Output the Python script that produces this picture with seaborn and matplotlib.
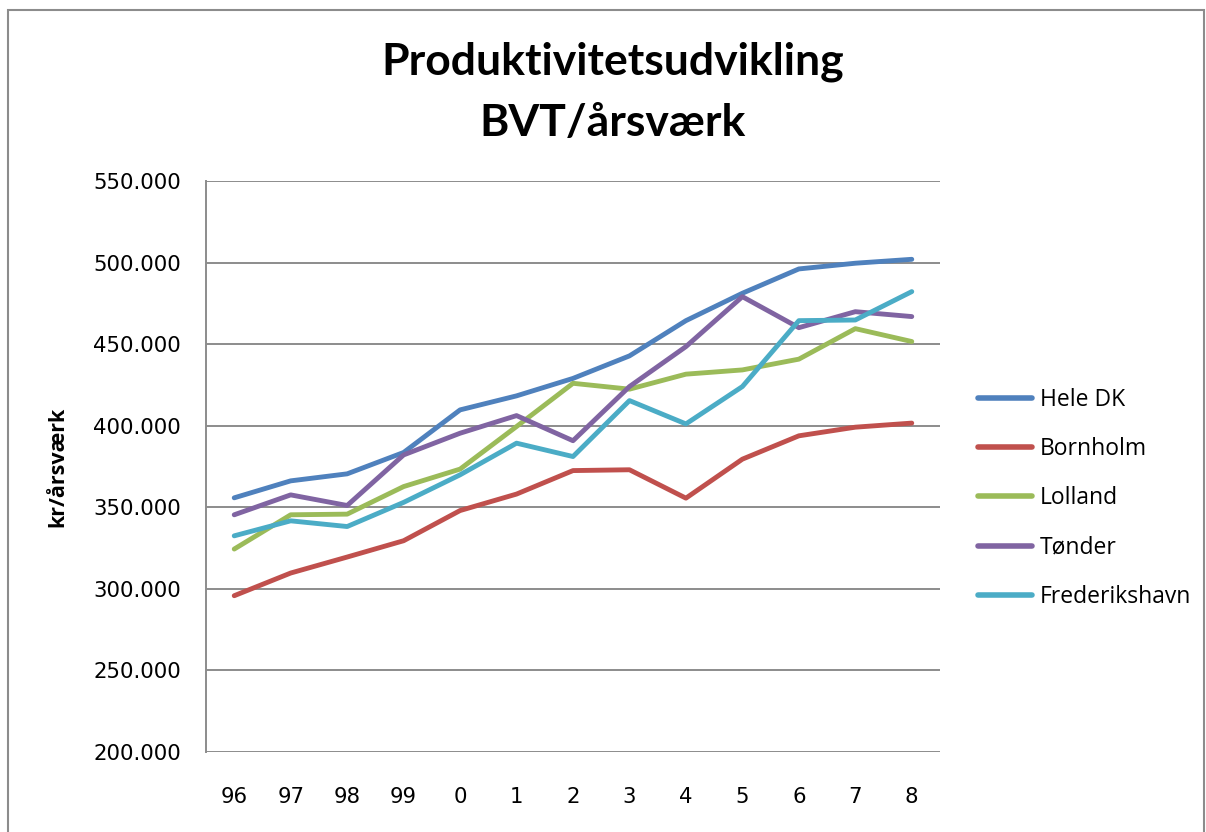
import numpy as np
import pandas as pd
import matplotlib
matplotlib.use("Agg")
import matplotlib.pyplot as plt
from matplotlib.patches import Rectangle
from matplotlib.ticker import FuncFormatter
import seaborn as sns

years = ["96", "97", "98", "99", "0", "1", "2", "3", "4", "5", "6", "7", "8"]

hele_dk = [355800, 366200, 370500, 383600, 409700, 418300, 429000, 442800, 464400, 481200, 496100, 499600, 502000]
bornholm = [295800, 309700, 319500, 329500, 348000, 358100, 372500, 373000, 355600, 379500, 393800, 399100, 401600]
lolland = [324400, 345400, 345800, 362700, 373400, 399500, 426000, 422400, 431600, 434200, 440800, 459500, 451600]
toender = [345400, 357600, 351100, 382100, 395400, 406200, 390800, 424000, 448500, 479100, 460100, 469900, 466900]
frederikshavn = [332500, 341700, 338200, 353000, 369900, 389300, 381100, 415400, 401100, 424000, 464400, 464800, 482200]

series_names = ["Hele DK", "Bornholm", "Lolland", "Tønder", "Frederikshavn"]
colors = ["#4F81BD", "#C0504D", "#9BBB59", "#8064A2", "#4BACC6"]

# long table for seaborn
rows = []
for name, vals in zip(series_names, [hele_dk, bornholm, lolland, toender, frederikshavn]):
    for i, v in enumerate(vals):
        rows.append({"pos": i, "year": years[i], "serie": name, "value": v})
df = pd.DataFrame(rows)

sns.set_style("white")
plt.rcParams['font.family'] = ['DejaVu Sans']
plt.rcParams['text.color'] = 'black'
plt.rcParams['axes.labelcolor'] = 'black'

fig = plt.figure(figsize=(12.06, 8.32), dpi=100)
ax = fig.add_axes([206 / 1206, 1 - 752 / 832, (940 - 206) / 1206, (752 - 181) / 832])

sns.lineplot(data=df, x="pos", y="value", hue="serie", hue_order=series_names,
             palette=colors, linewidth=3.5, ax=ax, legend=True)

ax.set_xlim(-0.5, 12.5)
ax.set_ylim(200000, 550000)
ax.set_yticks(np.arange(200000, 550001, 50000))
ax.yaxis.set_major_formatter(FuncFormatter(lambda v, p: f"{int(v):,}".replace(",", ".")))
ax.set_xticks(range(len(years)))
ax.set_xticklabels(years)
ax.tick_params(axis="both", length=0, labelsize=15.3, colors="black")
ax.tick_params(axis="y", pad=18)
ax.tick_params(axis="x", pad=25)

ax.grid(axis="y", color="#8C8C8C", linewidth=1.4)
ax.set_axisbelow(True)
for s in ["top", "right", "bottom"]:
    ax.spines[s].set_visible(False)
ax.spines["left"].set_color("#8C8C8C")
ax.spines["left"].set_linewidth(1.4)

ax.set_xlabel("")
ax.set_ylabel("kr/årsværk", fontsize=15.5, fontweight="bold",
              family=["Open Sans", "DejaVu Sans"])
ax.yaxis.set_label_coords((68 - 206) / 734, (752 - 467) / 571)

leg = ax.legend(loc="center left", bbox_to_anchor=(1.0237, 0.444), frameon=False,
                fontsize=16.5, handlelength=2.35, handletextpad=0.35, labelspacing=1.1)
for t in leg.get_texts():
    t.set_fontfamily(["Open Sans", "DejaVu Sans"])
for h in leg.get_lines():
    h.set_linewidth(4)
    h.set_solid_capstyle("round")

fig.text(613 / 1206, 1 - 75 / 832, "Produktivitetsudvikling", ha="center", va="baseline",
         fontsize=32, fontweight="bold", family=["Lato", "DejaVu Sans"])
fig.text(613 / 1206, 1 - 136 / 832, "BVT/årsværk", ha="center", va="baseline",
         fontsize=32, fontweight="bold", family=["Lato", "DejaVu Sans"])

# chart frame
fig.patches.append(Rectangle((8 / 1206, -0.01), (1204 - 8) / 1206, 1 - 10 / 832 + 0.01,
                             transform=fig.transFigure, fill=False,
                             edgecolor="#8C8C8C", linewidth=1.5))

fig.savefig("out.png", dpi=100)
